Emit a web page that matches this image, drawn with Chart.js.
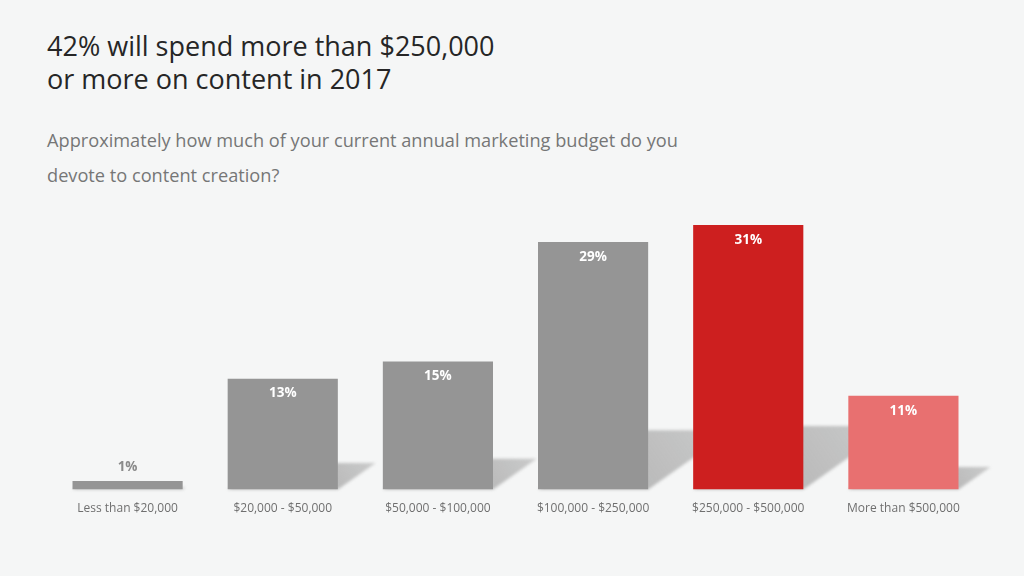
<!DOCTYPE html>
<html>
<head>
<meta charset="utf-8">
<script src="https://cdn.jsdelivr.net/npm/chart.js@4"></script>
<style>
  html, body { margin:0; padding:0; background:#f5f6f6; }
  body { width:1024px; height:576px; position:relative; overflow:hidden; font-family:"Open Sans", "Noto Sans", sans-serif; }
  #title { position:absolute; left:47px; top:29px; font-size:27px; line-height:33px; color:#262626; font-weight:400; }
  #subtitle { position:absolute; left:47px; top:123px; font-size:18.2px; line-height:35px; color:#767676; }
  #wrap { position:absolute; left:0; top:0; width:1024px; height:576px; }
</style>
</head>
<body>
<div id="title">42% will spend more than $250,000<br>or more on content in 2017</div>
<div id="subtitle">Approximately how much of your current annual marketing budget do you<br>devote to content creation?</div>
<div id="wrap"><canvas id="c" width="1024" height="576"></canvas></div>
<script>
const categories = ["Less than $20,000", "$20,000 - $50,000", "$50,000 - $100,000", "$100,000 - $250,000", "$250,000 - $500,000", "More than $500,000"];
const shares = [1, 13, 15, 29, 31, 11];
const valueLabels = ["1%", "13%", "15%", "29%", "31%", "11%"];
const barColors = ["#959595", "#959595", "#959595", "#959595", "#cd1f1f", "#e87070"];

const shadowPlugin = {
  id: 'shadowPlugin',
  beforeDatasetsDraw(chart) {
    const ctx = chart.ctx;
    const meta = chart.getDatasetMeta(0);
    ctx.save();
    ctx.filter = 'blur(1.5px)';
    meta.data.forEach((bar) => {
      const p = bar.getProps(['x', 'y', 'base', 'width'], true);
      const h = p.base - p.y;
      const dx = 0.34 * h, dy = 0.24 * h;
      const l = p.x - p.width / 2, r = p.x + p.width / 2;
      const g = ctx.createLinearGradient(r, p.base, r + dx, p.base - dy);
      g.addColorStop(0, 'rgba(150,150,150,0.62)');
      g.addColorStop(1, 'rgba(150,150,150,0.45)');
      ctx.fillStyle = g;
      ctx.beginPath();
      ctx.moveTo(l, p.base);
      ctx.lineTo(r, p.base);
      ctx.lineTo(r + dx, p.base - dy);
      ctx.lineTo(l + dx, p.base - dy);
      ctx.closePath();
      ctx.fill();
    });
    ctx.restore();
  }
};

const labelPlugin = {
  id: 'labelPlugin',
  afterDatasetsDraw(chart) {
    const ctx = chart.ctx;
    const meta = chart.getDatasetMeta(0);
    ctx.save();
    ctx.font = '700 13.5px "Open Sans", sans-serif';
    ctx.textAlign = 'center';
    ctx.textBaseline = 'middle';
    meta.data.forEach((bar, i) => {
      const p = bar.getProps(['x', 'y', 'base'], true);
      const h = p.base - p.y;
      if (h > 30) {
        ctx.fillStyle = '#ffffff';
        ctx.fillText(valueLabels[i], p.x, p.y + 15);
      } else {
        ctx.fillStyle = '#8a8a8a';
        ctx.fillText(valueLabels[i], p.x, p.y - 14);
      }
    });
    ctx.restore();
  }
};

new Chart(document.getElementById('c'), {
  type: 'bar',
  data: {
    labels: categories,
    datasets: [{
      data: shares,
      backgroundColor: barColors,
      borderWidth: 0,
      barPercentage: 0.71,
      categoryPercentage: 1.0
    }]
  },
  options: {
    responsive: false,
    animation: false,
    events: [],
    layout: { padding: { left: 50, right: 43, top: 225, bottom: 48 } },
    plugins: { legend: { display: false }, tooltip: { enabled: false }, title: { display: false } },
    scales: {
      x: {
        grid: { display: false, drawTicks: false },
        border: { display: false },
        ticks: { color: '#6f6f6f', font: { family: '"Open Sans", sans-serif', size: 12 }, padding: 12, maxRotation: 0 }
      },
      y: { display: false, min: 0, max: 31 }
    }
  },
  plugins: [shadowPlugin, labelPlugin]
});
</script>
</body>
</html>
